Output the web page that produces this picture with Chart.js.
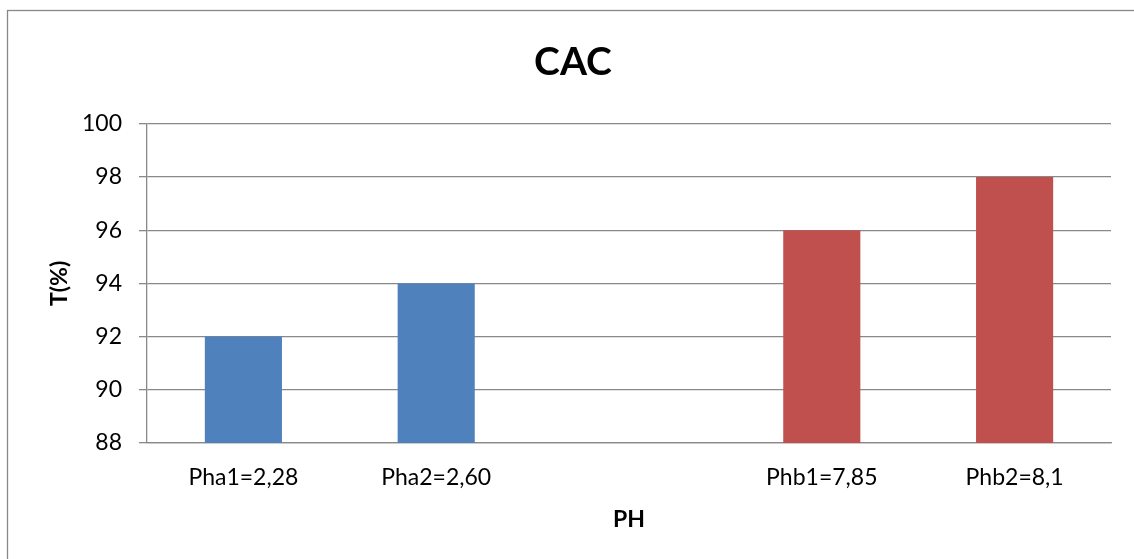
<!DOCTYPE html>
<html>
<head>
<meta charset="utf-8">
<script src="https://cdn.jsdelivr.net/npm/chart.js@4"></script>
<style>
  html, body { margin: 0; padding: 0; background: #fff; overflow: hidden; }
  canvas { display: block; }
</style>
</head>
<body>
<canvas id="myChart" width="1146" height="559"></canvas>
<script>
const categories = ['Pha1=2,28', 'Pha2=2,60', '', 'Phb1=7,85', 'Phb2=8,1'];
const seriesA = [92, 94, null, null, null];
const seriesB = [null, null, null, 96, 98];
const yTicks = [88, 90, 92, 94, 96, 98, 100];

const gray = '#898989';
const font = 'Lato';

// frame round the whole chart, like the office chart border
const frame = {
    id: 'frame',
    beforeDraw(chart) {
        const c = chart.ctx;
        c.save();
        c.fillStyle = '#fff';
        c.fillRect(0, 0, chart.width, chart.height);
        c.strokeStyle = gray;
        c.lineWidth = 1.3;
        c.strokeRect(7.5, 10.5, 1131, 600);
        c.restore();
    }
};

const ctx = document.getElementById('myChart');
const myChart = new Chart(ctx, {
    type: 'bar',
    data: {
        labels: categories,
        datasets: [{
            label: 'A',
            data: seriesA,
            backgroundColor: '#4F81BD'
        }, {
            label: 'B',
            data: seriesB,
            backgroundColor: '#C0504D'
        }]
    },
    options: {
        responsive: false,
        animation: false,
        layout: { padding: { left: 35, right: 35, top: 0, bottom: 0 } },
        datasets: {
            bar: { grouped: false, barPercentage: 0.4, categoryPercentage: 1 }
        },
        plugins: {
            legend: { display: false },
            tooltip: { enabled: false },
            title: {
                display: true,
                text: 'CAC',
                color: '#000',
                font: { family: font, size: 39, weight: 'bold' },
                padding: { top: 39, bottom: 38 }
            }
        },
        scales: {
            x: {
                grid: { display: false },
                border: { display: true, color: gray, width: 1.3 },
                ticks: { color: '#000', font: { family: font, size: 23 }, padding: 13, maxRotation: 0 },
                title: {
                    display: true,
                    text: 'PH',
                    color: '#000',
                    font: { family: font, size: 23, weight: 'bold' },
                    padding: { top: 0, bottom: 26 }
                },
                afterFit(scale) { scale.height = 116; }
            },
            y: {
                min: 88,
                max: 100,
                afterBuildTicks(scale) { scale.ticks = yTicks.map(v => ({ value: v })); },
                grid: { color: gray, lineWidth: 1.3, tickLength: 8, tickColor: gray },
                border: { display: true, color: gray, width: 1.3 },
                ticks: { color: '#000', font: { family: font, size: 23 }, padding: 17 },
                title: {
                    display: true,
                    text: 'T(%)',
                    color: '#000',
                    font: { family: font, size: 23, weight: 'bold' },
                    padding: { top: 11, bottom: 0 }
                },
                afterFit(scale) { scale.width = 112; }
            }
        }
    },
    plugins: [frame]
});
</script>
</body>
</html>
